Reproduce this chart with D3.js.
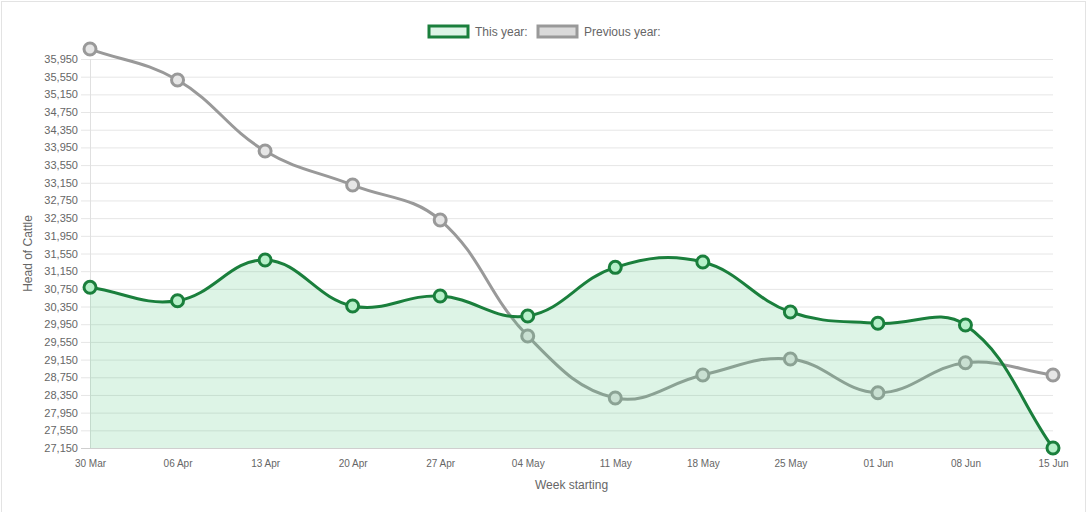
<!DOCTYPE html>
<html>
<head>
<meta charset="utf-8">
<script src="https://cdn.jsdelivr.net/npm/d3@7"></script>
<style>
  body { margin: 0; background: #fff; }
  svg { display: block; font-family: "Liberation Sans", Arial, Helvetica, sans-serif; }
</style>
</head>
<body>
<svg id="chart" width="1087" height="512"></svg>
<script>
var weeks = ["30 Mar", "06 Apr", "13 Apr", "20 Apr", "27 Apr", "04 May", "11 May", "18 May", "25 May", "01 Jun", "08 Jun", "15 Jun"];
var thisYear = [30785, 30482, 31403, 30362, 30588, 30136, 31237, 31357, 30226, 29971, 29932, 27150];
var prevYear = [36175, 35474, 33868, 33099, 32307, 29683, 28281, 28801, 29163, 28401, 29079, 28801];
var yTicks = d3.range(27150, 35951, 400);
var seriesNames = ["This year:", "Previous year:"];

var W = 1087, H = 512;
var margin = {left: 90, right: 34, top: 59, bottom: 64};
var svg = d3.select('#chart');

// frame around the canvas
svg.append('rect')
	.attr("x", 1.5).attr("y", 1.5)
	.attr("width", W - 3).attr("height", H + 20)
	.style("fill", "none").style("stroke", "#e3e3e3");

var x = d3.scalePoint().domain(weeks).range([margin.left, W - margin.right]);
var y = d3.scaleLinear().domain([27150, 35950]).range([H - margin.bottom, margin.top]);
var area = {left: margin.left, right: W - margin.right, top: margin.top, bottom: H - margin.bottom};

// grid
var grid = svg.append('g');
yTicks.forEach(function(t){
	grid.append('line')
		.attr("x1", area.left - 9).attr("x2", area.right)
		.attr("y1", y(t) + 0.5).attr("y2", y(t) + 0.5)
		.style("stroke", t === 27150 ? "#cfcfcf" : "#e6e6e6");
});
grid.append('line')
	.attr("x1", area.left + 0.5).attr("x2", area.left + 0.5)
	.attr("y1", area.top).attr("y2", area.bottom)
	.style("stroke", "#e0e0e0");

// y axis labels
var yAxis = d3.axisLeft(y).tickValues(yTicks).tickFormat(d3.format(",")).tickSize(0).tickPadding(12);
var ya = svg.append('g').attr("transform", "translate(" + area.left + ",0)").call(yAxis);
ya.select('.domain').remove();
ya.selectAll('text').style("font-size", "11px").style("fill", "#666").style("font-family", "Liberation Sans, Arial, sans-serif");

// x axis labels
var xAxis = d3.axisBottom(x).tickSize(0).tickPadding(12);
var xa = svg.append('g').attr("transform", "translate(0," + area.bottom + ")").call(xAxis);
xa.select('.domain').remove();
xa.selectAll('text').style("font-size", "10px").style("fill", "#666").style("font-family", "Liberation Sans, Arial, sans-serif");

// axis titles
svg.append('text')
	.attr("transform", "translate(32," + ((area.top + area.bottom) / 2) + ") rotate(-90)")
	.attr("text-anchor", "middle")
	.style("font-size", "12px").style("fill", "#666")
	.text("Head of Cattle");
svg.append('text')
	.attr("x", (area.left + area.right) / 2).attr("y", 489)
	.attr("text-anchor", "middle")
	.style("font-size", "12px").style("fill", "#666")
	.text("Week starting");

// Chart.js style spline (tension 0.4, control points capped to chart area)
var cap = function(v, lo, hi){ return Math.max(lo, Math.min(hi, v)); };
var splinePath = function(pts, closeBottom){
	var t = 0.4, cps = [];
	for(var i = 0; i < pts.length; i++){
		var p = pts[Math.max(0, i - 1)], c = pts[i], n = pts[Math.min(pts.length - 1, i + 1)];
		var d01 = Math.hypot(c[0] - p[0], c[1] - p[1]);
		var d12 = Math.hypot(n[0] - c[0], n[1] - c[1]);
		var s01 = d01 / (d01 + d12) || 0, s12 = d12 / (d01 + d12) || 0;
		var fa = t * s01, fb = t * s12;
		cps.push({
			prev: [cap(c[0] - fa * (n[0] - p[0]), area.left, area.right), cap(c[1] - fa * (n[1] - p[1]), area.top, area.bottom)],
			next: [cap(c[0] + fb * (n[0] - p[0]), area.left, area.right), cap(c[1] + fb * (n[1] - p[1]), area.top, area.bottom)]
		});
	}
	var path = d3.path();
	path.moveTo(pts[0][0], pts[0][1]);
	for(var j = 1; j < pts.length; j++){
		path.bezierCurveTo(cps[j-1].next[0], cps[j-1].next[1], cps[j].prev[0], cps[j].prev[1], pts[j][0], pts[j][1]);
	}
	if(closeBottom){
		path.lineTo(pts[pts.length - 1][0], area.bottom);
		path.lineTo(pts[0][0], area.bottom);
		path.closePath();
	}
	return path.toString();
};

var greenPts = thisYear.map(function(v, i){ return [x(weeks[i]), y(v)]; });
var greyPts = prevYear.map(function(v, i){ return [x(weeks[i]), y(v)]; });

// previous year drawn first (underneath)
svg.append('path')
	.attr("d", splinePath(greyPts, false))
	.style("fill", "none").style("stroke", "#999").style("stroke-width", 3);
svg.selectAll('circle.prev')
	.data(greyPts).enter().append('circle')
	.attr("class", "prev")
	.attr("cx", function(d){ return d[0]; })
	.attr("cy", function(d){ return d[1]; })
	.attr("r", 6)
	.style("fill", "#e6e6e6").style("stroke", "#999").style("stroke-width", 3);

// this year with fill
svg.append('path')
	.attr("d", splinePath(greenPts, true))
	.style("fill", "rgba(85,200,130,0.2)").style("stroke", "none");
svg.append('path')
	.attr("d", splinePath(greenPts, false))
	.style("fill", "none").style("stroke", "#1a7f3c").style("stroke-width", 3);
svg.selectAll('circle.cur')
	.data(greenPts).enter().append('circle')
	.attr("class", "cur")
	.attr("cx", function(d){ return d[0]; })
	.attr("cy", function(d){ return d[1]; })
	.attr("r", 6)
	.style("fill", "#b6f0c9").style("stroke", "#1a7f3c").style("stroke-width", 3);

// legend
var legendX = [429, 538];
var boxFill = ["#ddf4e6", "#dadada"];
var boxStroke = ["#1a7f3c", "#999"];
for(var k = 0; k < seriesNames.length; k++){
	svg.append('rect')
		.attr("x", legendX[k]).attr("y", 26)
		.attr("width", 39).attr("height", 11)
		.style("fill", boxFill[k]).style("stroke", boxStroke[k]).style("stroke-width", 3);
	svg.append('text')
		.attr("x", legendX[k] + 46).attr("y", 36)
		.style("font-size", "12px").style("fill", "#666")
		.text(seriesNames[k]);
}
</script>
</body>
</html>
